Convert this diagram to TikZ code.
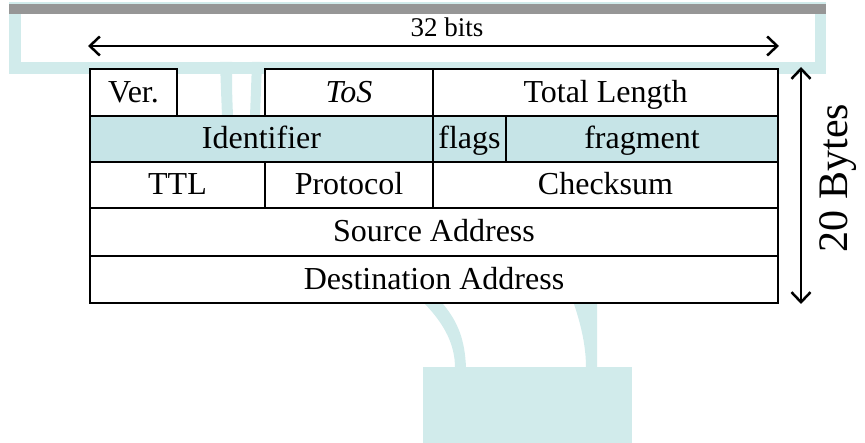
\documentclass[tikz,border=0pt]{standalone}
\usepackage{fontspec}
\setmainfont{Liberation Serif}
\usetikzlibrary{arrows.meta}
\definecolor{bgteal}{RGB}{209,235,235}
\definecolor{rowteal}{RGB}{198,228,231}
\definecolor{bargray}{RGB}{150,150,150}

\begin{document}
\begin{tikzpicture}[x=1pt, y=-1pt, cell/.style={rectangle, draw=black, line width=1.1pt, fill=white, inner sep=0pt, outer sep=0pt, text height=20pt, text depth=0pt, font=\fontsize{32}{36}\selectfont}]
		\tikzstyle{dim}=[{Straight Barb[length=10pt,width=19pt]}-{Straight Barb[length=10pt,width=19pt]}, line width=2.5pt]
		\tikzstyle{band}=[fill=bgteal]
		\useasboundingbox (0,0) rectangle (865,443);

		% Draw background
		\fill[band] (9,2) rectangle (826,74);
		\fill[white] (21,14) rectangle (815,62);
		\fill[bargray] (9,4) rectangle (826,14);
		\fill[band] (220,62) .. controls (221,90) .. (222,116) -- (233,116) .. controls (232,90) .. (232,62) -- cycle;
		\fill[band] (252,62) .. controls (251,90) .. (250,116) -- (260,116) .. controls (261,90) .. (262,62) -- cycle;
		\fill[band] (425,304) .. controls (445,325) and (455,345) .. (455,368) -- (466,368) .. controls (465,340) and (458,322) .. (443,304) -- cycle;
		\fill[band] (574,304) .. controls (582,328) and (586,348) .. (586,368) -- (597,368) -- (597,304) -- cycle;
		\fill[band] (423,367) rectangle (632,443);

		% Draw header fields
		\node[cell, minimum width=87pt, minimum height=47pt] (ver) at (133.5,92.5) {Ver.};
		\node[cell, minimum width=168pt, minimum height=47pt] (tos) at (349,92.5) {\itshape ToS};
		\node[cell, minimum width=345pt, minimum height=47pt] (totlen) at (605.5,92.5) {Total Length};
		\node[cell, fill=rowteal, minimum width=343pt, minimum height=46pt] (ident) at (261.5,139) {Identifier};
		\node[cell, fill=rowteal, minimum width=73pt, minimum height=46pt] (flags) at (469.5,139) {flags};
		\node[cell, fill=rowteal, minimum width=272pt, minimum height=46pt] (frag) at (642,139) {fragment};
		\node[cell, minimum width=175pt, minimum height=46pt] (ttl) at (177.5,185) {TTL};
		\node[cell, minimum width=168pt, minimum height=46pt] (proto) at (349,185) {Protocol};
		\node[cell, minimum width=345pt, minimum height=46pt] (csum) at (605.5,185) {Checksum};
		\node[cell, minimum width=688pt, minimum height=48pt] (src) at (434,232) {Source Address};
		\node[cell, minimum width=688pt, minimum height=47pt] (dst) at (434,279.5) {Destination Address};

		% Draw dimensions
		\coordinate (bitsL) at (88,46);
		\coordinate (bitsR) at (779,46);
		\coordinate (bytesT) at (801,67);
		\coordinate (bytesB) at (801,304);
		\node[font=\fontsize{27}{30}\selectfont] (bits) at (447,27) {32 bits};
		\node[font=\fontsize{42}{48}\selectfont, rotate=90] (bytes) at (838,178) {20 Bytes};
		\path[dim] (bitsL) edge (bitsR);
		\path[dim] (bytesT) edge (bytesB);

		\end{tikzpicture}
\end{document}
